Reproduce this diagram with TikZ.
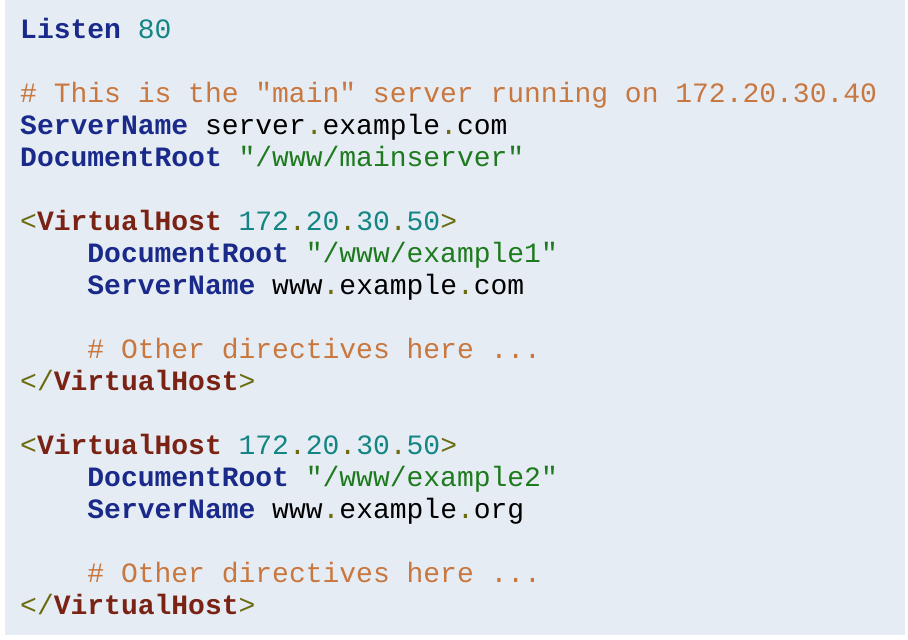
\documentclass[tikz,border=0pt]{standalone}
\usepackage{fontspec}
\setmonofont{Liberation Mono}
\definecolor{codebg}{HTML}{E6ECF4}
\definecolor{kwblue}{HTML}{1A2A8A}
\definecolor{numteal}{HTML}{138583}
\definecolor{cmtorange}{HTML}{C8773E}
\definecolor{strgreen}{HTML}{1E7A1E}
\definecolor{tagred}{HTML}{7A2214}
\definecolor{punctolive}{HTML}{6B6B10}
\newcommand{\kw}[1]{\textcolor{kwblue}{\bfseries #1}}
\newcommand{\tg}[1]{\textcolor{tagred}{\bfseries #1}}
\newcommand{\nm}[1]{\textcolor{numteal}{#1}}
\newcommand{\cm}[1]{\textcolor{cmtorange}{#1}}
\newcommand{\st}[1]{\textcolor{strgreen}{#1}}
\newcommand{\pu}[1]{\textcolor{punctolive}{#1}}
\newcommand{\ind}{\hspace*{4\fontcharwd\font`x}}
\begin{document}
\begin{tikzpicture}[x=1pt,y=-1pt,
  codeline/.style={anchor=base west,inner sep=0pt,font=\ttfamily\fontsize{28}{32}\selectfont}]
  \useasboundingbox (0,0) rectangle (908,640);
  \fill[codebg] (5,0) rectangle (905,635);

  \node[codeline] (l1) at (20,38) {\kw{Listen} \nm{80}};
  % main server
  \node[codeline] (l3) at (20,102) {\cm{\# This is the "main" server running on 172.20.30.40}};
  \node[codeline] (l4) at (20,134) {\kw{ServerName} server\pu{.}example\pu{.}com};
  \node[codeline] (l5) at (20,166) {\kw{DocumentRoot} \st{"/www/mainserver"}};
  % first virtual host
  \node[codeline] (l7) at (20,230) {\pu{<}\tg{VirtualHost} \nm{172}\pu{.}\nm{20}\pu{.}\nm{30}\pu{.}\nm{50}\pu{>}};
  \node[codeline] (l8) at (20,262) {\ind\kw{DocumentRoot} \st{"/www/example1"}};
  \node[codeline] (l9) at (20,294) {\ind\kw{ServerName} www\pu{.}example\pu{.}com};
  \node[codeline] (l11) at (20,358) {\ind\cm{\# Other directives here ...}};
  \node[codeline] (l12) at (20,390) {\pu{</}\tg{VirtualHost}\pu{>}};
  % second virtual host
  \node[codeline] (l14) at (20,454) {\pu{<}\tg{VirtualHost} \nm{172}\pu{.}\nm{20}\pu{.}\nm{30}\pu{.}\nm{50}\pu{>}};
  \node[codeline] (l15) at (20,486) {\ind\kw{DocumentRoot} \st{"/www/example2"}};
  \node[codeline] (l16) at (20,518) {\ind\kw{ServerName} www\pu{.}example\pu{.}org};
  \node[codeline] (l18) at (20,582) {\ind\cm{\# Other directives here ...}};
  \node[codeline] (l19) at (20,614) {\pu{</}\tg{VirtualHost}\pu{>}};
\end{tikzpicture}
\end{document}
